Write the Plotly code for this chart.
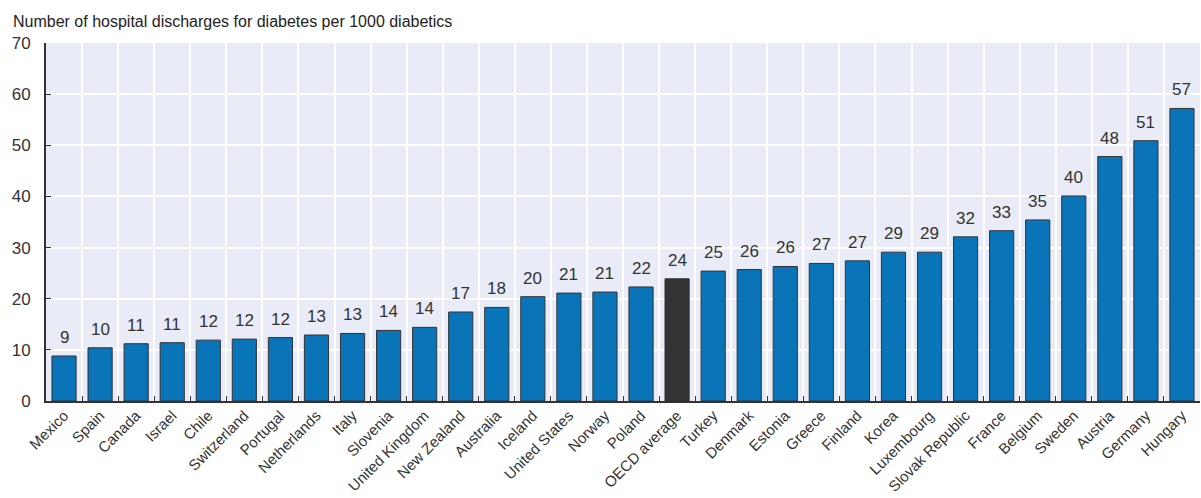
import plotly.graph_objects as go

countries = [
    "Mexico", "Spain", "Canada", "Israel", "Chile", "Switzerland", "Portugal",
    "Netherlands", "Italy", "Slovenia", "United Kingdom", "New Zealand",
    "Australia", "Iceland", "United States", "Norway", "Poland", "OECD average",
    "Turkey", "Denmark", "Estonia", "Greece", "Finland", "Korea", "Luxembourg",
    "Slovak Republic", "France", "Belgium", "Sweden", "Austria", "Germany", "Hungary",
]
discharges = [
    8.8, 10.4, 11.2, 11.4, 11.9, 12.1, 12.4,
    12.9, 13.2, 13.8, 14.4, 17.4,
    18.3, 20.4, 21.1, 21.3, 22.3, 23.9,
    25.4, 25.7, 26.3, 26.9, 27.4, 29.1, 29.1,
    32.1, 33.3, 35.4, 40.1, 47.8, 50.9, 57.2,
]
y_ticks = [0, 10, 20, 30, 40, 50, 60, 70]

country_blue = "#0a74b9"
average_dark = "#333333"
colors = [average_dark if c == "OECD average" else country_blue for c in countries]

font_family = "Liberation Sans Narrow, Arial Narrow, Liberation Sans, Arial, sans-serif"

fig = go.Figure(
    go.Bar(
        x=countries,
        y=discharges,
        marker=dict(color=colors, line=dict(color="#333333", width=1)),
        hoverinfo="x+y",
    )
)

# value labels sitting above each bar
value_labels = [
    dict(
        x=c, y=v, xref="x", yref="y",
        text=f"{v:.0f}",
        showarrow=False,
        yanchor="bottom",
        yshift=7,
        font=dict(size=17, color="#333333", family=font_family),
    )
    for c, v in zip(countries, discharges)
]

fig.update_layout(
    width=1201,
    height=498,
    margin=dict(l=46, r=1, t=43, b=97),
    paper_bgcolor="white",
    plot_bgcolor="#e9ecf6",
    bargap=0.33,
    showlegend=False,
    font=dict(family=font_family, color="#333333"),
    annotations=[
        dict(
            text="Number of hospital discharges for diabetes per 1000 diabetics",
            xref="paper", yref="paper", x=0, y=1,
            xanchor="left", yanchor="bottom",
            xshift=-35, yshift=11,
            showarrow=False,
            font=dict(size=16, color="#222222", family=font_family),
        )
    ] + value_labels,
)

fig.update_xaxes(
    type="category",
    automargin=False,
    tickangle=-45,
    tickson="boundaries",
    ticks="inside",
    ticklen=5,
    tickcolor="#333333",
    showgrid=True,
    gridcolor="white",
    gridwidth=1.5,
    showline=True,
    linecolor="#333333",
    linewidth=2,
    ticklabelstandoff=-2,
    tickfont=dict(size=15, color="#333333"),
)
fig.update_yaxes(
    range=[0, 70],
    automargin=False,
    tickvals=y_ticks,
    ticks="inside",
    ticklen=5,
    tickcolor="#333333",
    showgrid=True,
    gridcolor="white",
    gridwidth=1.5,
    zeroline=False,
    showline=True,
    linecolor="#333333",
    linewidth=2,
    ticklabelstandoff=10,
    tickfont=dict(size=17, color="#333333"),
)

fig.write_html("out.html")
